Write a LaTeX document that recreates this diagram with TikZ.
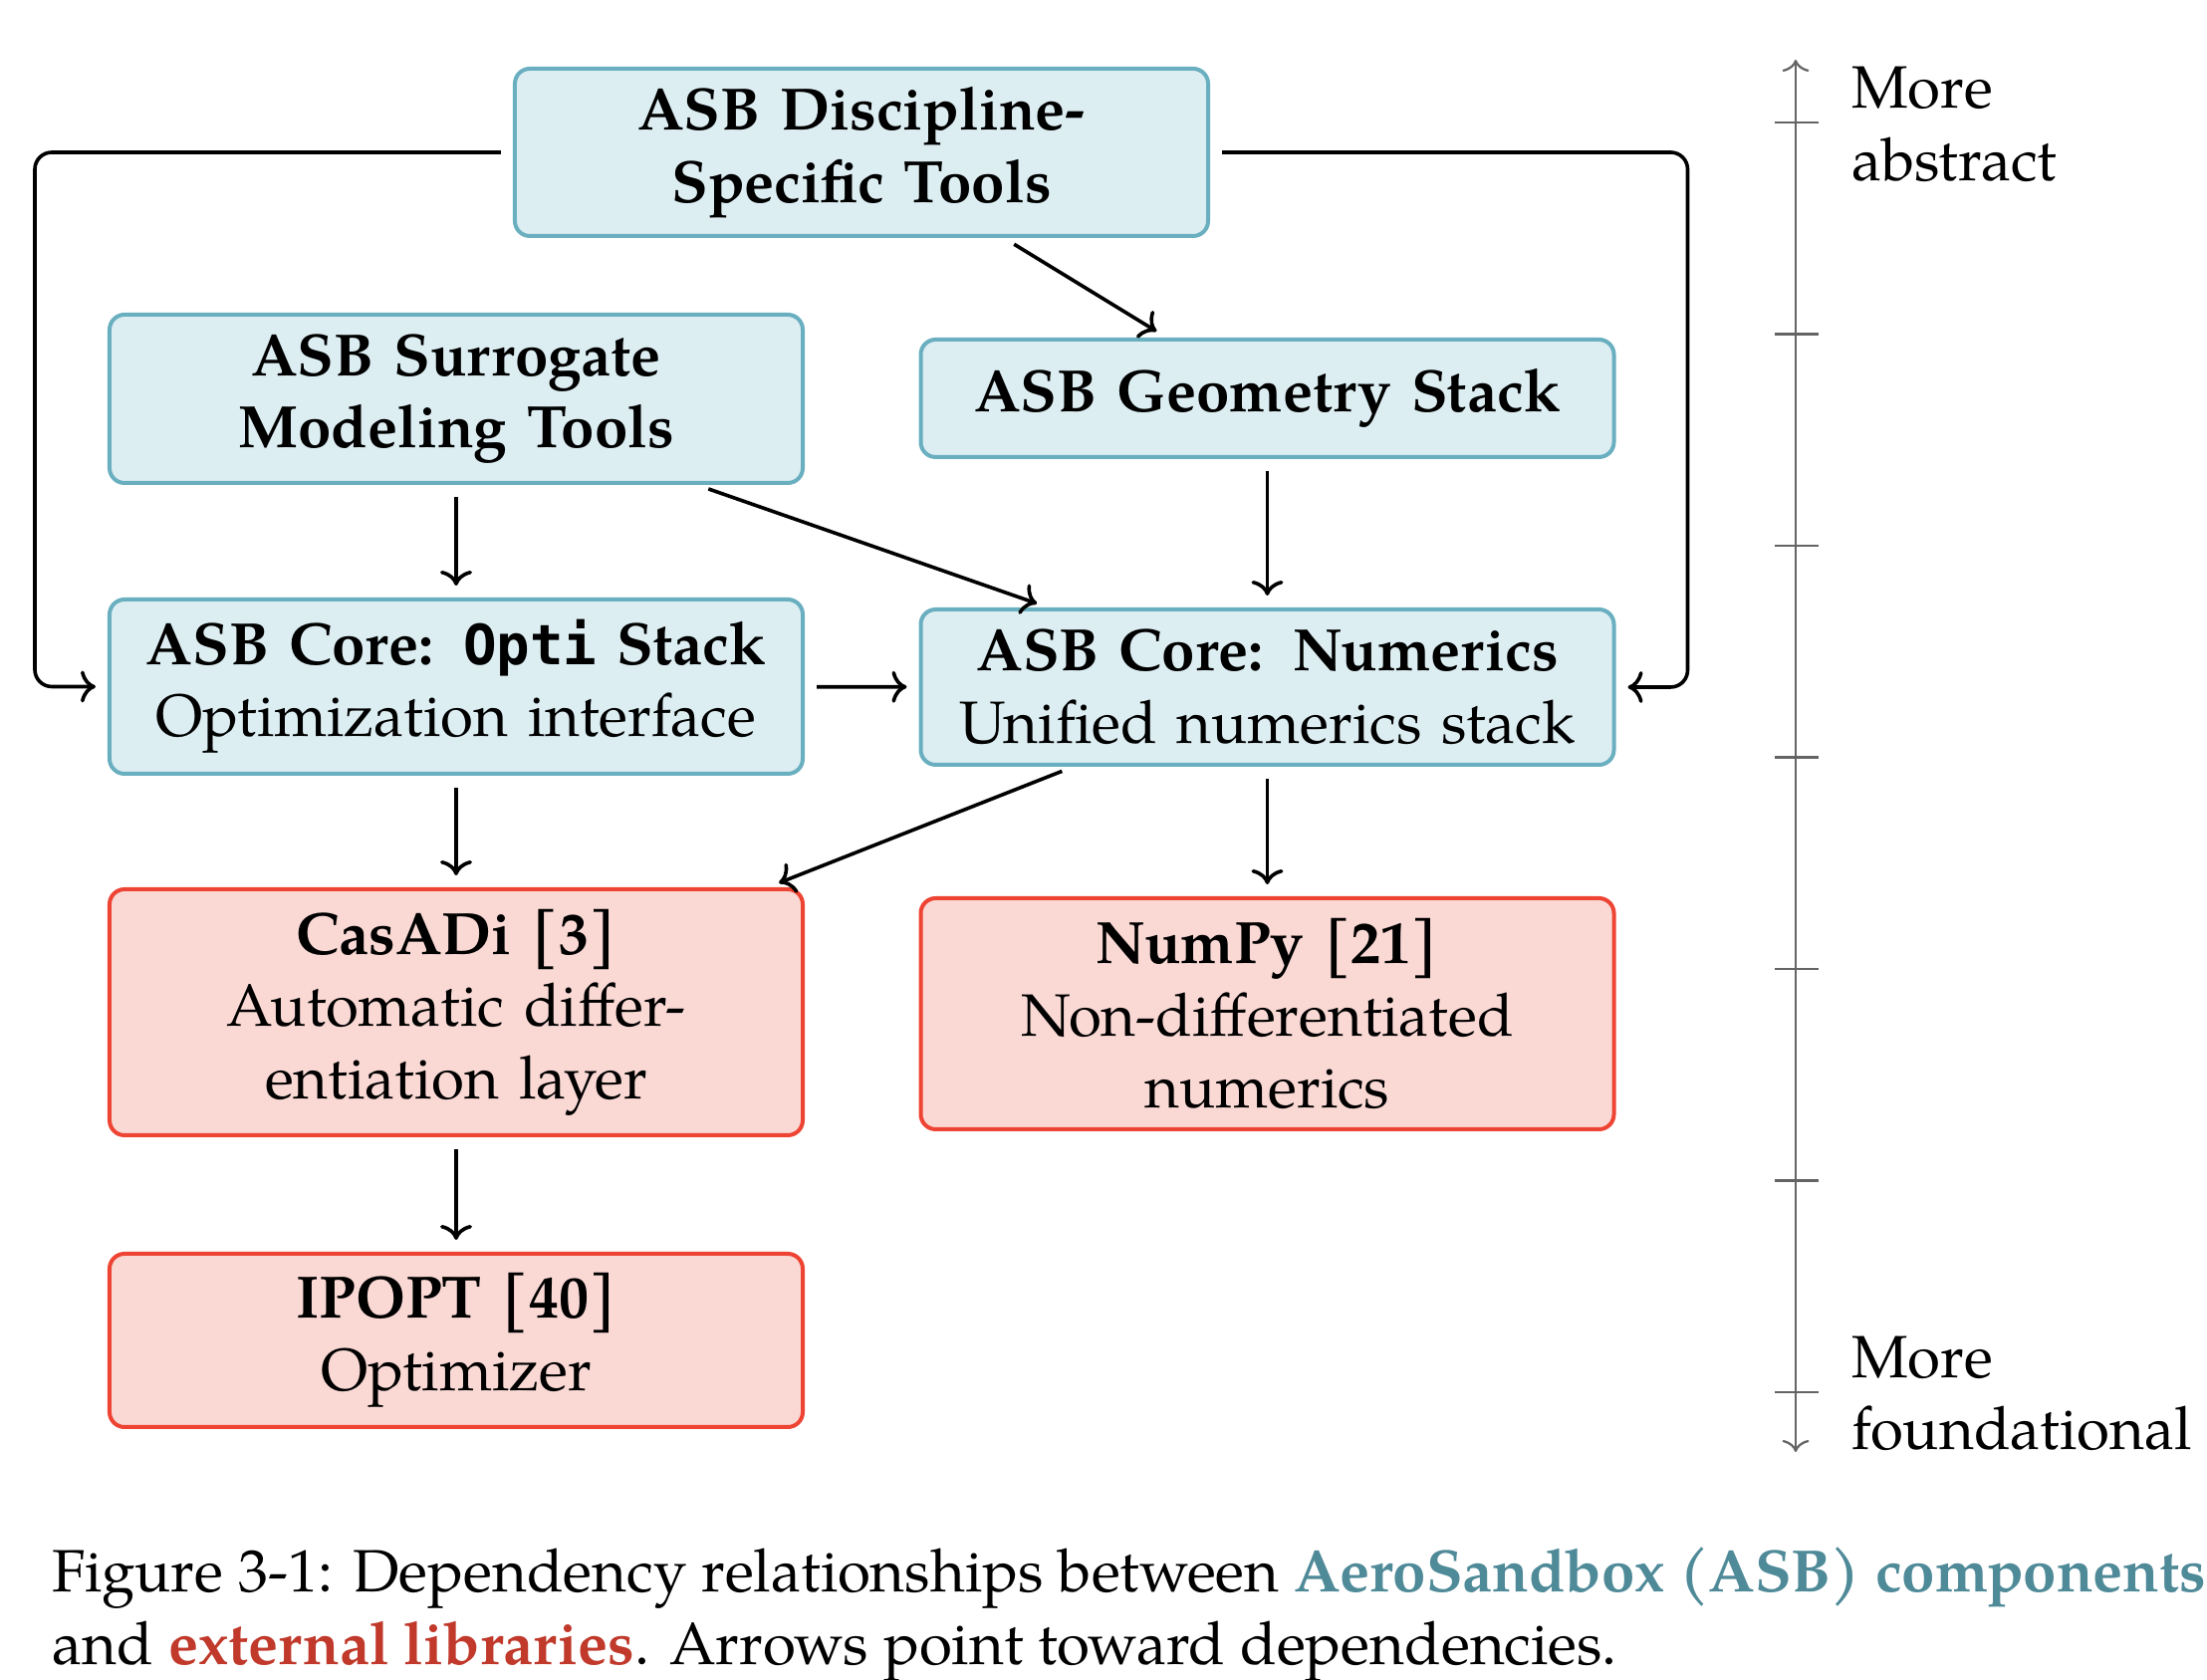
\documentclass[tikz,border=0pt]{standalone}
\usepackage{fontspec}
\setmainfont{TeX Gyre Pagella}
\newfontfamily\optimono{DejaVu Sans Mono}[Scale=0.93]
\usetikzlibrary{arrows.meta,calc}
\definecolor{asbfill}{RGB}{221,238,243}
\definecolor{asbdraw}{RGB}{106,175,192}
\definecolor{extfill}{RGB}{250,217,213}
\definecolor{extdraw}{RGB}{238,68,51}
\definecolor{captteal}{RGB}{79,138,152}
\definecolor{captred}{RGB}{192,57,43}
\definecolor{axisgray}{RGB}{100,100,100}
\begin{document}
\begin{tikzpicture}[x=0.2pt,y=-0.2pt,
  every node/.style={font=\fontsize{12}{14.5}\selectfont},
  box/.style={draw, line width=0.8pt, rounded corners=3pt, text width=136pt, inner xsep=1.6pt, inner ysep=2pt, align=center},
  asb/.style={box, fill=asbfill, draw=asbdraw},
  ext/.style={box, fill=extfill, draw=extdraw},
  conn/.style={line width=0.72pt, -{Computer Modern Rightarrow[length=3pt,width=6.4pt]}, shorten >=2.4pt, shorten <=2.4pt},
  loopline/.style={conn, rounded corners=3.4pt},
  axisline/.style={draw=axisgray, line width=0.45pt},
  labeltext/.style={inner sep=0pt, align=left}]
\useasboundingbox (0,0) rectangle (2216,1687);

\node[asb, minimum height=33.6pt] (disc) at (865,153) {\bfseries ASB Discipline-\\Specific Tools};
\node[asb, minimum height=33.8pt] (surr) at (458,400.5) {\bfseries ASB Surrogate\\Modeling Tools};
\node[asb, minimum height=23.6pt] (geom) at (1272.5,400) {\bfseries ASB Geometry Stack};
\node[asb, minimum height=35pt] (opti) at (458,689.5) {\textbf{ASB Core: {\optimono\bfseries Opti} Stack}\\Optimization interface};
\node[asb, minimum height=31.2pt] (num) at (1272.5,690) {\textbf{ASB Core: Numerics}\\Unified numerics stack};
\node[ext, minimum height=49.4pt] (cas) at (458,1016.5) {\textbf{CasADi [3]}\\Automatic differ-\\entiation layer};
\node[ext, minimum height=46.4pt] (numpy) at (1272.5,1018) {\textbf{NumPy [21]}\\Non-differentiated\\numerics};
\node[ext, minimum height=34.8pt] (ipopt) at (458,1346) {\textbf{IPOPT [40]}\\Optimizer};

\draw[conn] (surr) -- (opti);
\draw[conn] (geom) -- (num);
\draw[conn] (opti) -- (num);
\draw[conn] (opti) -- (cas);
\draw[conn] (num) -- (numpy);
\draw[conn] (cas) -- (ipopt);
\draw[conn] ($(disc.south)+(143,0)$) -- ($(geom.north)+(-101,0)$);
\draw[conn] ($(surr.south)+(242,0)$) -- ($(num.north)+(-220,0)$);
\draw[conn] ($(num.south)+(-195,0)$) -- ($(cas.north)+(313,0)$);
\draw[loopline] (disc.west) -| ($(opti.west)+(-73,0)$) -- (opti.west);
\draw[loopline] (disc.east) -| ($(num.east)+(72,0)$) -- (num.east);

\coordinate (axtop) at (1803,60);
\coordinate (axbot) at (1803,1458);
\draw[axisline, {Computer Modern Rightarrow[length=2.4pt,width=5.4pt]}-{Computer Modern Rightarrow[length=2.4pt,width=5.4pt]}] (axbot) -- (axtop);
\foreach \k in {0,...,6} \draw[axisline] (1782,{123+212.5*\k}) -- (1826,{123+212.5*\k});

\node[labeltext, anchor=north west] (abs) at (1858,66) {More\\abstract};
\node[labeltext, anchor=south west] (fnd) at (1858,1458) {More\\foundational};

\node[labeltext, anchor=north west] (cap) at (52,1553) {Figure 3-1: Dependency relationships between \textcolor{captteal}{\textbf{AeroSandbox (ASB) components}}\\and \textcolor{captred}{\textbf{external libraries}}. Arrows point toward dependencies.};
\end{tikzpicture}
\end{document}
